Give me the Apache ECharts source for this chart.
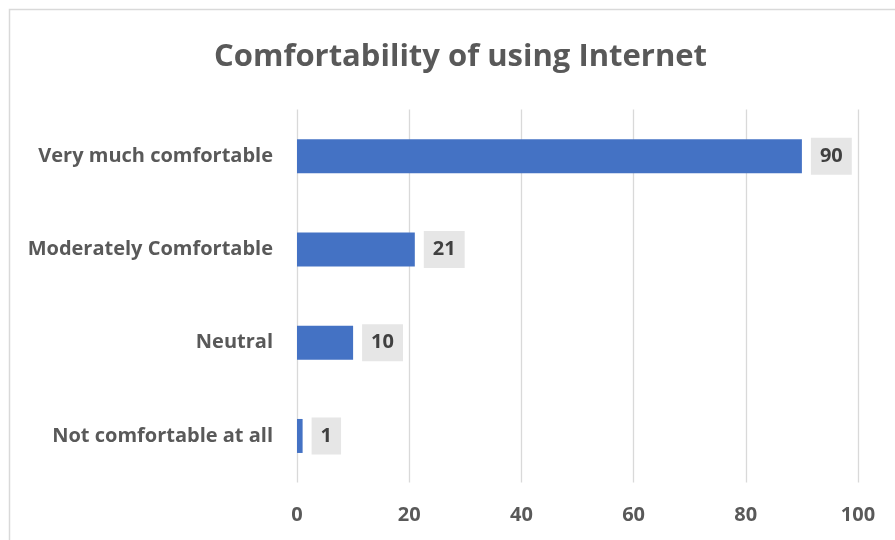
<!DOCTYPE html>
<html>
<head>
<meta charset="utf-8">
<style>html,body{margin:0;padding:0;background:#fff;}#c{width:895px;height:540px;}</style>
<script src="https://cdn.jsdelivr.net/npm/echarts@6/dist/echarts.min.js"></script>
</head>
<body>
<div id="c"></div>
<script>
const titleText = "Comfortability of using Internet";
const categories = ["Not comfortable at all", "Neutral", "Moderately Comfortable", "Very much comfortable"];
const values = [1, 10, 21, 90];
const xMin = 0, xMax = 100, xInterval = 20;

const FONT = "'Open Sans', 'Noto Sans', sans-serif";
const chart = echarts.init(document.getElementById('c'), null, {renderer: 'canvas'});
chart.setOption({
  animation: false,
  backgroundColor: '#fff',
  title: {
    text: titleText,
    left: 209,
    top: 37,
    textStyle: {fontFamily: FONT, fontWeight: 'bold', fontSize: 31, color: '#595959'}
  },
  graphic: [{
    type: 'rect',
    shape: {x: 9.5, y: 9.5, width: 900, height: 600},
    style: {fill: 'none', stroke: '#d9d9d9', lineWidth: 1.5},
    silent: true
  }],
  grid: {left: 297, right: 37, top: 109.5, bottom: 57.4, containLabel: false},
  xAxis: {
    type: 'value', min: xMin, max: xMax, interval: xInterval,
    axisLine: {show: false}, axisTick: {show: false},
    splitLine: {show: true, lineStyle: {color: '#d9d9d9', width: 1.3}},
    axisLabel: {margin: 23, fontFamily: FONT, fontWeight: 'bold', fontSize: 20, color: '#595959'}
  },
  yAxis: {
    type: 'category', data: categories,
    axisLine: {show: false}, axisTick: {show: false},
    axisLabel: {margin: 24, fontFamily: FONT, fontWeight: 'bold', fontSize: 20, color: '#595959'}
  },
  series: [{
    type: 'bar', data: values, barWidth: 34,
    itemStyle: {color: '#4472C4'},
    label: {
      show: true, position: 'right', distance: 9,
      fontFamily: FONT, fontWeight: 'bold', fontSize: 20, lineHeight: 20, color: '#404040',
      backgroundColor: '#e6e6e6', padding: [9, 9, 8, 9]
    }
  }]
});
</script>
</body>
</html>
